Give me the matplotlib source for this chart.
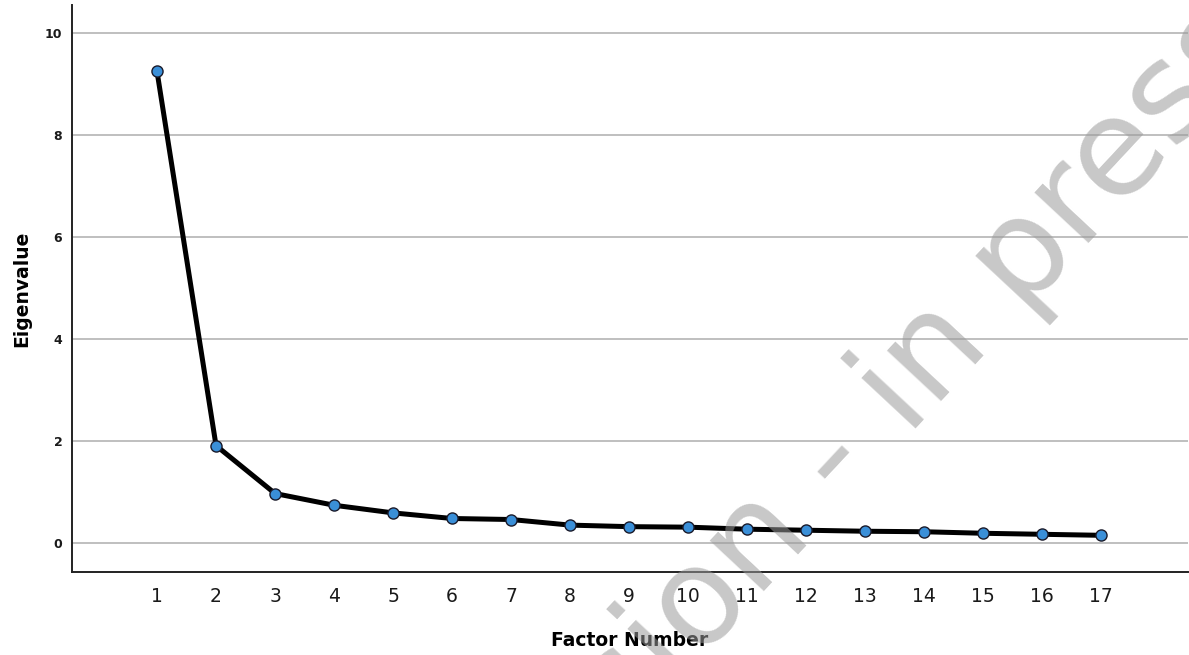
import matplotlib
matplotlib.use("Agg")
import matplotlib.pyplot as plt

factors = list(range(1, 18))
eigenvalues = [9.25, 1.91, 0.97, 0.74, 0.59, 0.48, 0.46, 0.35, 0.32, 0.31,
               0.27, 0.25, 0.23, 0.22, 0.19, 0.17, 0.15]
y_ticks = [0, 2, 4, 6, 8, 10]

fig = plt.figure(figsize=(11.89, 6.55), dpi=100)
ax = fig.add_axes([0.0606, 0.1267, 0.9385, 0.8653])

for t in y_ticks:
    ax.axhline(t, color="#b4b4b4", lw=1.2, zorder=1)

ax.plot(factors, eigenvalues, color="black", lw=3.6, zorder=3,
        marker="o", markersize=8, markerfacecolor="#3a8fd8",
        markeredgecolor="#1a1a2a", markeredgewidth=1.0)

ax.set_xlim(-0.44, 18.47)
ax.set_ylim(-0.57, 10.55)
ax.set_xticks(factors)
ax.set_xticklabels([str(f) for f in factors], fontsize=13.5)
ax.set_yticks(y_ticks)
ax.set_yticklabels([str(t) for t in y_ticks], fontsize=9, fontweight="bold")
ax.tick_params(axis="both", length=0, colors="#1a1a1a")
ax.tick_params(axis="x", pad=11)
ax.tick_params(axis="y", pad=7)

for s in ("top", "right"):
    ax.spines[s].set_visible(False)
for s in ("left", "bottom"):
    ax.spines[s].set_linewidth(1.4)
    ax.spines[s].set_color("#222222")

ax.set_xlabel("Factor Number", fontsize=13.5, fontweight="bold", labelpad=18)
ax.set_ylabel("Eigenvalue", fontsize=13.5, fontweight="bold", labelpad=10)

# watermark (cut off at the figure edges, as in the original)
fig.text(845 / 1189, 1 - 450 / 655, "Version - in press", fontsize=98,
         color="#9a9a9a", alpha=0.55, rotation=47, rotation_mode="anchor",
         ha="center", va="center", zorder=10)

fig.savefig("out.png", dpi=100)
